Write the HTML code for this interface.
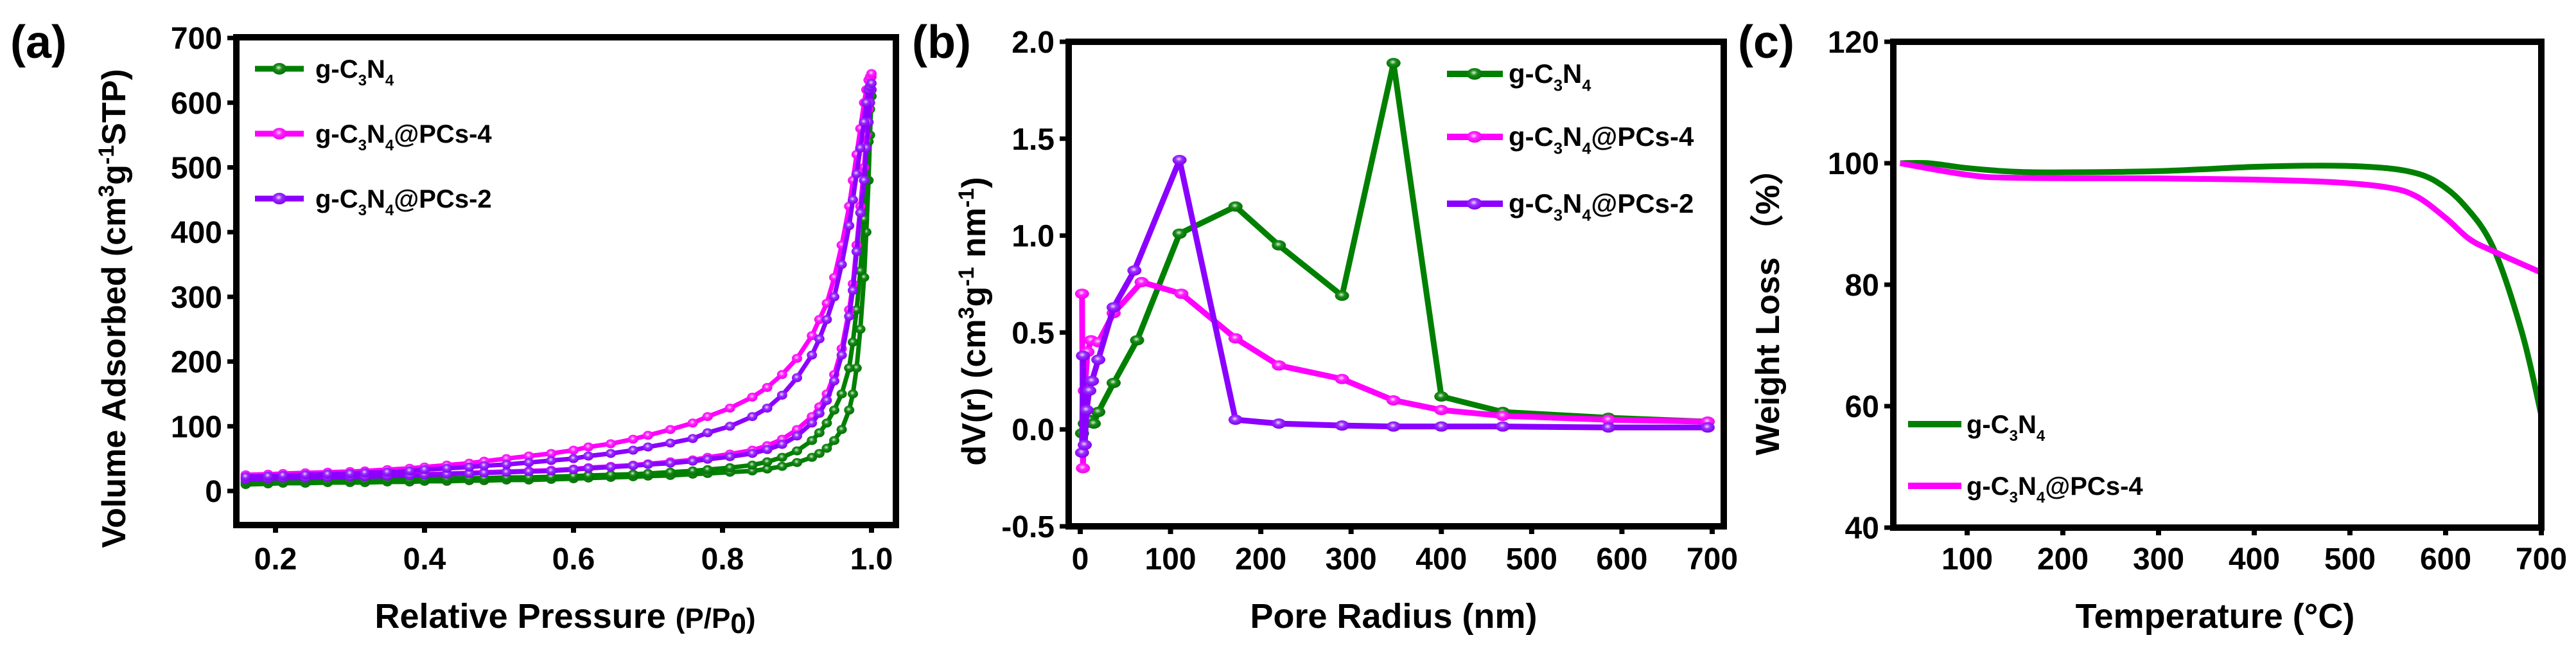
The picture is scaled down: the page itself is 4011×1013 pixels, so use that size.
<!DOCTYPE html>
<html><head><meta charset="utf-8">
<style>
html,body{margin:0;padding:0;background:#fff;overflow:hidden;}
svg{display:block;}
text{font-family:"Liberation Sans",Arial,sans-serif;font-weight:bold;fill:#000;}
</style></head>
<body>
<svg id="fig" width="4011" height="1013" viewBox="0 0 4011 1013" xmlns="http://www.w3.org/2000/svg">
<defs>
<radialGradient id="gG" cx="0.45" cy="0.4" r="0.6"><stop offset="0" stop-color="#d8f0d8"/><stop offset="0.4" stop-color="#1a8a1a"/><stop offset="1" stop-color="#007000"/></radialGradient>
<radialGradient id="gP" cx="0.45" cy="0.4" r="0.6"><stop offset="0" stop-color="#ffe0ff"/><stop offset="0.4" stop-color="#ff22ff"/><stop offset="1" stop-color="#ee00ee"/></radialGradient>
<radialGradient id="gV" cx="0.45" cy="0.4" r="0.6"><stop offset="0" stop-color="#eadcff"/><stop offset="0.4" stop-color="#9a2bff"/><stop offset="1" stop-color="#8000ee"/></radialGradient>
</defs>
</svg>
<script>
// ---------- Panel (a) data ----------
const aPressure=[0.16,0.19,0.21,0.24,0.27,0.30,0.32,0.35,0.38,0.40,0.43,0.46,0.48,0.51,0.54,0.57,0.60,0.62,0.65,0.68,0.70,0.73,0.76,0.78,0.81,0.84,0.86,0.88,0.90,0.92,0.93,0.94,0.95,0.96,0.97,0.975,0.98,0.985,0.99,0.993,0.996,0.998,1.0];
const aGreenAds=[10,11,12,12,13,13,13,14,14,15,15,16,16,17,17,18,19,20,21,22,23,24,26,27,29,31,34,38,44,52,58,66,78,95,125,150,190,250,330,400,480,550,610];
const aGreenDes=[14,15,15,16,16,17,17,18,18,19,19,20,20,21,21,22,23,24,25,26,27,29,31,33,36,40,45,52,62,78,90,105,125,150,190,230,280,340,420,480,540,590,620];
const aPinkAds=[20,21,22,22,23,24,24,25,25,26,27,28,29,30,31,32,34,36,38,40,42,45,48,52,57,63,70,80,95,115,130,150,180,220,280,320,380,440,500,550,590,620,640];
const aPinkDes=[25,26,27,28,29,30,31,33,35,37,40,43,46,50,54,58,63,68,73,80,86,95,105,115,128,145,160,180,205,240,265,290,330,380,440,480,520,560,600,620,635,640,645];
const aPurpleAds=[18,19,20,20,21,22,22,23,24,25,26,27,28,29,30,31,33,35,37,39,41,43,46,49,53,58,64,72,85,105,120,140,170,210,270,310,370,430,480,530,570,600,620];
const aPurpleDes=[22,23,24,25,26,27,28,29,31,33,35,37,39,41,44,47,50,54,58,63,68,74,81,90,100,115,128,148,175,210,235,265,300,350,410,450,490,530,570,600,620,625,630];
const aXTicks=[0.2,0.4,0.6,0.8,1.0];
const aXTickLabels=["0.2","0.4","0.6","0.8","1.0"];
const aYTicks=[0,100,200,300,400,500,600,700];
// ---------- Panel (b) data ----------
const bGreenX=[2,5,10,15,20,37,63,110,172,220,290,347,400,468,585,695];
const bGreenY=[-0.02,0.03,0.05,0.03,0.09,0.24,0.46,1.01,1.15,0.95,0.69,1.89,0.17,0.09,0.06,0.04];
const bPinkX=[2,3,5,8,12,20,37,68,112,172,220,290,347,400,468,585,695];
const bPinkY=[0.70,-0.20,0.20,0.40,0.46,0.45,0.60,0.76,0.70,0.47,0.33,0.26,0.15,0.10,0.07,0.05,0.04];
const bPurpleX=[2,3,5,7,10,13,20,37,60,110,172,220,290,347,400,468,585,695];
const bPurpleY=[-0.12,0.38,-0.08,0.10,0.20,0.25,0.36,0.63,0.82,1.39,0.05,0.03,0.02,0.015,0.015,0.015,0.01,0.01];
const bXTicks=[0,100,200,300,400,500,600,700];
const bYTicks=[-0.5,0.0,0.5,1.0,1.5,2.0];
const bYTickLabels=["-0.5","0.0","0.5","1.0","1.5","2.0"];
// ---------- Panel (c) data ----------
const cGreenT=[30,60,100,150,200,300,400,470,520,560,590,620,650,680,700];
const cGreenW=[100,100,99.2,98.6,98.5,98.7,99.4,99.6,99.4,98.7,97,93,86,72,58.5];
const cPinkT=[30,100,150,300,400,480,540,570,600,625,650,700];
const cPinkW=[100,98.1,97.6,97.5,97.3,96.9,96.0,94.5,91,87.5,85.5,82];
const cXTicks=[100,200,300,400,500,600,700];
const cYTicks=[40,60,80,100,120];

const svg=document.getElementById('fig');
const NS='http://www.w3.org/2000/svg';
function mk(tag,attrs,parent){const e=document.createElementNS(NS,tag);for(const k in attrs)e.setAttribute(k,attrs[k]);(parent||svg).appendChild(e);return e;}
function txt(s,x,y,size,anchor,parent){const t=mk('text',{x:x,y:y,'font-size':size,'text-anchor':anchor||'middle'},parent);t.textContent=s;return t;}
function sub(t,s,size,dy){const ts=document.createElementNS(NS,'tspan');ts.setAttribute('font-size',size);ts.setAttribute('dy',dy);ts.textContent=s;t.appendChild(ts);return ts;}
function c3n4(x,y,size,suffix,parent){
  const t=mk('text',{x:x,y:y,'font-size':size,'text-anchor':'start'},parent);
  const a=document.createElementNS(NS,'tspan');a.textContent='g-C';t.appendChild(a);
  sub(t,'3',size*0.6,size*0.3);
  const n=document.createElementNS(NS,'tspan');n.setAttribute('dy',-size*0.3);n.textContent='N';t.appendChild(n);
  sub(t,'4',size*0.6,size*0.3);
  if(suffix){const s=document.createElementNS(NS,'tspan');s.setAttribute('dy',-size*0.3);s.textContent=suffix;t.appendChild(s);}
  return t;
}
function frame(L,T,R,B,name){
  const g=mk('g',{});
  
  
  mk('rect',{x:L,y:T,width:R-L,height:B-T,fill:'none',stroke:'#000','stroke-width':10},g);
  return g;
}
const GREEN='#008000',PINK='#ff00ff',PURPLE='#8b00ff';
const TICKY=886, XTITLEY=977, TFS=48;

// ===== Panel (a) =====
(function(){
  const L=368,T=58,R=1395,B=817;
  const X=p=>429+(p-0.2)/0.2*232;
  const Y=v=>764-v*1.007;
  const g=mk('g',{});
  
  
  frame(L,T,R,B,'panel-a-frame');
  aXTicks.forEach((v,i)=>{mk('line',{x1:X(v),x2:X(v),y1:B,y2:B+12,stroke:'#000','stroke-width':8},g);
    const t=txt(aXTickLabels[i],X(v),TICKY,TFS,'middle',g);
    
    });
  aYTicks.forEach(v=>{mk('line',{x1:L-14,x2:L,y1:Y(v),y2:Y(v),stroke:'#000','stroke-width':7},g);
    const t=txt(String(v),L-22,Y(v)+17,TFS,'end',g);
    
    });
  const series=[[aGreenAds,aGreenDes,GREEN,'url(#gG)','green'],[aPinkAds,aPinkDes,PINK,'url(#gP)','pink'],[aPurpleAds,aPurpleDes,PURPLE,'url(#gV)','purple']];
  series.forEach(s=>{
    [s[0],s[1]].forEach((arr,k)=>{
      const pts=aPressure.map((p,i)=>X(p)+','+Y(arr[i])).join(' ');
      const pl=mk('polyline',{points:pts,fill:'none',stroke:s[2],'stroke-width':7},g);
      
      
      aPressure.forEach((p,i)=>{const c=mk('ellipse',{cx:X(p),cy:Y(arr[i]),rx:8,ry:7,fill:s[3]},g);
        
        });
    });
  });
  const leg=[['',GREEN,'url(#gG)',107],['@PCs-4',PINK,'url(#gP)',208],['@PCs-2',PURPLE,'url(#gV)',309]];
  leg.forEach(l=>{const lg=mk('g',{},g);
    
    
    mk('line',{x1:397,x2:473,y1:l[3],y2:l[3],stroke:l[1],'stroke-width':9},lg);
    mk('ellipse',{cx:435,cy:l[3],rx:11,ry:9,fill:l[2]},lg);
    c3n4(491,l[3]+14,40,l[0],lg);});
  const yt=txt('',195,480,52,'middle',g);
  yt.setAttribute('transform','rotate(-90 195 480)');
  
  
  yt.textContent='Volume Adsorbed (cm';
  sub(yt,'3',34,-18);sub(yt,'g',52,18);sub(yt,'-1',34,-18);sub(yt,'STP)',52,18);
  const xt=mk('text',{x:880,y:XTITLEY,'font-size':54,'text-anchor':'middle'},g);
  
  
  xt.textContent='Relative Pressure ';sub(xt,'(P/P',44,0);sub(xt,'0',44,8);sub(xt,')',44,-8);
  const pl=txt('(a)',16,90,72,'start',g);
  
  
})();

// ===== Panel (b) =====
(function(){
  const L=1664,T=65,R=2684,B=819;
  const X=v=>1682+v/700*984;
  const Y=v=>819-(v+0.5)/2.5*754;
  const g=mk('g',{});
  
  
  frame(L,T,R,B,'panel-b-frame');
  bXTicks.forEach(v=>{mk('line',{x1:X(v),x2:X(v),y1:B,y2:B+12,stroke:'#000','stroke-width':8},g);
    const t=txt(String(v),X(v),TICKY,TFS,'middle',g);
    
    });
  bYTicks.forEach((v,i)=>{mk('line',{x1:L-14,x2:L,y1:Y(v),y2:Y(v),stroke:'#000','stroke-width':7},g);
    const t=txt(bYTickLabels[i],L-22,Y(v)+17,TFS,'end',g);
    
    });
  const series=[[bGreenX,bGreenY,GREEN,'url(#gG)','green'],[bPinkX,bPinkY,PINK,'url(#gP)','pink'],[bPurpleX,bPurpleY,PURPLE,'url(#gV)','purple']];
  series.forEach(s=>{
    const pl=mk('polyline',{points:s[0].map((x,i)=>X(x)+','+Y(s[1][i])).join(' '),fill:'none',stroke:s[2],'stroke-width':9,'stroke-linejoin':'round'},g);
    
    
    s[0].forEach((x,i)=>{const c=mk('ellipse',{cx:X(x),cy:Y(s[1][i]),rx:11,ry:8,fill:s[3]},g);
      
      });
  });
  const leg=[['',GREEN,'url(#gG)',115],['@PCs-4',PINK,'url(#gP)',213],['@PCs-2',PURPLE,'url(#gV)',317]];
  leg.forEach(l=>{const lg=mk('g',{},g);
    
    
    mk('line',{x1:2253,x2:2340,y1:l[3],y2:l[3],stroke:l[1],'stroke-width':10},lg);
    mk('ellipse',{cx:2296,cy:l[3],rx:12,ry:9,fill:l[2]},lg);
    c3n4(2349,l[3]+14,42,l[0],lg);});
  const yt=mk('text',{x:1534,y:500,'font-size':52,'text-anchor':'middle',transform:'rotate(-90 1534 500)'},g);
  
  
  yt.textContent='dV(r) (cm';sub(yt,'3',34,-18);sub(yt,'g',52,18);sub(yt,'-1',34,-18);sub(yt,' nm',52,18);sub(yt,'-1',34,-18);sub(yt,')',52,18);
  const xt=txt('Pore Radius (nm)',2170,XTITLEY,54,'middle',g);
  
  
  const pl=txt('(b)',1420,90,72,'start',g);
  
  
})();

// ===== Panel (c) =====
(function(){
  const L=2948,T=65,R=3957,B=821;
  const X=v=>3957-(700-v)*1.49;
  const Y=v=>821-(v-40)/80*756;
  const g=mk('g',{});
  
  
  frame(L,T,R,B,'panel-c-frame');
  cXTicks.forEach(v=>{mk('line',{x1:X(v),x2:X(v),y1:B,y2:B+12,stroke:'#000','stroke-width':8},g);
    const t=txt(String(v),X(v),TICKY,TFS,'middle',g);
    
    });
  cYTicks.forEach(v=>{mk('line',{x1:L-14,x2:L,y1:Y(v),y2:Y(v),stroke:'#000','stroke-width':7},g);
    const t=txt(String(v),L-22,Y(v)+17,TFS,'end',g);
    
    });
  [[cGreenT,cGreenW,GREEN,'green'],[cPinkT,cPinkW,PINK,'pink']].forEach(s=>{
    const pts=s[0].map((x,i)=>[X(x),Y(s[1][i])]);
    let d='M'+pts[0][0]+','+pts[0][1];
    for(let i=1;i<pts.length;i++){const p0=pts[Math.max(0,i-2)],p1=pts[i-1],p2=pts[i],p3=pts[Math.min(pts.length-1,i+1)];
      const c1x=p1[0]+(p2[0]-p0[0])/6,c1y=p1[1]+(p2[1]-p0[1])/6,c2x=p2[0]-(p3[0]-p1[0])/6,c2y=p2[1]-(p3[1]-p1[1])/6;
      d+=' C'+c1x+','+c1y+' '+c2x+','+c2y+' '+p2[0]+','+p2[1];}
    const p=mk('path',{d:d,fill:'none',stroke:s[2],'stroke-width':9},g);
    
    
  });
  [['',GREEN,660],['@PCs-4',PINK,756]].forEach(l=>{const lg=mk('g',{},g);
    
    
    mk('line',{x1:2971,x2:3054,y1:l[2],y2:l[2],stroke:l[1],'stroke-width':10},lg);
    c3n4(3062,l[2]+14,40,l[0],lg);});
  const yt=mk('text',{x:2770,y:472,'font-size':52,'text-anchor':'middle',transform:'rotate(-90 2770 472)'},g);
  
  
  yt.textContent='Weight Loss （%）';
  const xt=txt('Temperature (°C)',3449,XTITLEY,54,'middle',g);
  
  
  const pl=txt('(c)',2706,90,72,'start',g);
  
  
})();
</script>
</body></html>
